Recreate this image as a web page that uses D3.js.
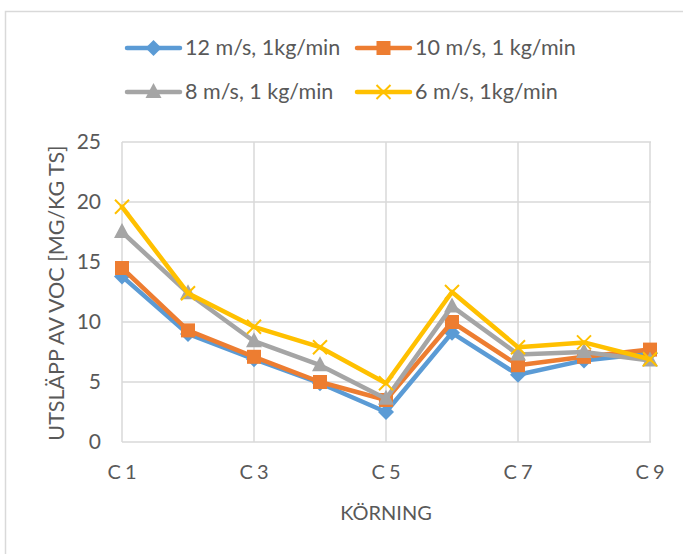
<!DOCTYPE html>
<html><head><meta charset="utf-8">
<script src="https://cdn.jsdelivr.net/npm/d3@7"></script>
<style>body{margin:0;background:#fff}svg{display:block}text{font-family:Lato,"Open Sans",sans-serif;fill:#595959}</style>
</head><body>
<svg id="c" width="683" height="554"></svg>
<script>
const categories = ["C1","C2","C3","C4","C5","C6","C7","C8","C9"];
const tickLabels = ["C1","C3","C5","C7","C9"];
const yTicks = [0,5,10,15,20,25];
const s12 = [13.8, 9.0, 6.9, 4.9, 2.5, 9.1, 5.6, 6.8, 7.4];
const s10 = [14.5, 9.3, 7.1, 5.0, 3.5, 10.0, 6.4, 7.1, 7.7];
const s8  = [17.5, 12.4, 8.4, 6.4, 3.6, 11.3, 7.3, 7.5, 6.8];
const s6  = [19.6, 12.4, 9.6, 7.9, 4.9, 12.5, 7.9, 8.3, 6.9];
const seriesNames = ["12 m/s, 1kg/min","10 m/s, 1 kg/min","8 m/s, 1 kg/min","6 m/s, 1kg/min"];
const colors = ["#5B9BD5","#ED7D31","#A5A5A5","#FFC000"];
const markers = ["diamond","square","triangle","x"];
const series = [s12,s10,s8,s6];

const svg = d3.select("#c");
svg.append("path").attr("d","M5.5,554 L5.5,11.5 L683,11.5").attr("fill","none").attr("stroke","#d9d9d9").attr("stroke-width",1.5);

const x = d3.scalePoint().domain(categories).range([122,650]);
const y = d3.scaleLinear().domain([0,25]).range([442,142]);

svg.append("g").selectAll("line").data(yTicks).join("line")
 .attr("x1",122).attr("x2",651).attr("y1",d=>y(d)).attr("y2",d=>y(d))
 .attr("stroke","#d9d9d9").attr("stroke-width",1.5);
svg.append("g").selectAll("line").data(tickLabels).join("line")
 .attr("x1",d=>x(d)).attr("x2",d=>x(d)).attr("y1",142).attr("y2",442)
 .attr("stroke","#d9d9d9").attr("stroke-width",1.5);

svg.append("g").selectAll("text").data(yTicks).join("text")
 .attr("x",101).attr("y",d=>y(d)+7).attr("text-anchor","end").attr("font-size",21).text(d=>d);
svg.append("g").selectAll("text").data(tickLabels).join("text")
 .attr("x",d=>x(d)+2).attr("y",479).attr("text-anchor","middle").attr("font-size",20)
 .attr("letter-spacing","4px").text(d=>d);
svg.append("text").attr("x",386).attr("y",520).attr("text-anchor","middle").attr("font-size",20).text("KÖRNING");
svg.append("text").attr("transform","translate(64,293) rotate(-90)").attr("text-anchor","middle").attr("font-size",21.5).text("UTSLÄPP AV VOC [MG/KG TS]");

function marker(g, type, cx, cy, color){
  if(type==="diamond"){
    g.append("path").attr("d",`M${cx},${cy-8}L${cx+8},${cy}L${cx},${cy+8}L${cx-8},${cy}Z`).attr("fill",color);
  } else if(type==="square"){
    g.append("rect").attr("x",cx-7).attr("y",cy-7).attr("width",14).attr("height",14).attr("fill",color);
  } else if(type==="triangle"){
    g.append("path").attr("d",`M${cx},${cy-9}L${cx+8},${cy+6}L${cx-8},${cy+6}Z`).attr("fill",color);
  } else {
    g.append("path").attr("d",`M${cx-7},${cy-7}L${cx+7},${cy+7}M${cx+7},${cy-7}L${cx-7},${cy+7}`).attr("stroke",color).attr("stroke-width",2);
  }
}

const line = d3.line().x((d,i)=>x(categories[i])).y(d=>y(d));
series.forEach((s,k)=>{
  const g = svg.append("g");
  g.append("path").attr("d",line(s)).attr("fill","none").attr("stroke",colors[k]).attr("stroke-width",4.5).attr("stroke-linejoin","round").attr("stroke-linecap","round");
  s.forEach((v,i)=>marker(g,markers[k],x(categories[i]),y(v),colors[k]));
});

const legPos = [[127,48],[357,48],[127,92],[357,92]];
seriesNames.forEach((n,k)=>{
  const [lx,ly] = legPos[k];
  const g = svg.append("g");
  g.append("line").attr("x1",lx).attr("x2",lx+53).attr("y1",ly).attr("y2",ly).attr("stroke",colors[k]).attr("stroke-width",4.5).attr("stroke-linecap","round");
  marker(g,markers[k],lx+26.5,ly,colors[k]);
  g.append("text").attr("x",lx+58).attr("y",ly+7).attr("font-size",21.5).text(n);
});
</script>
</body></html>
